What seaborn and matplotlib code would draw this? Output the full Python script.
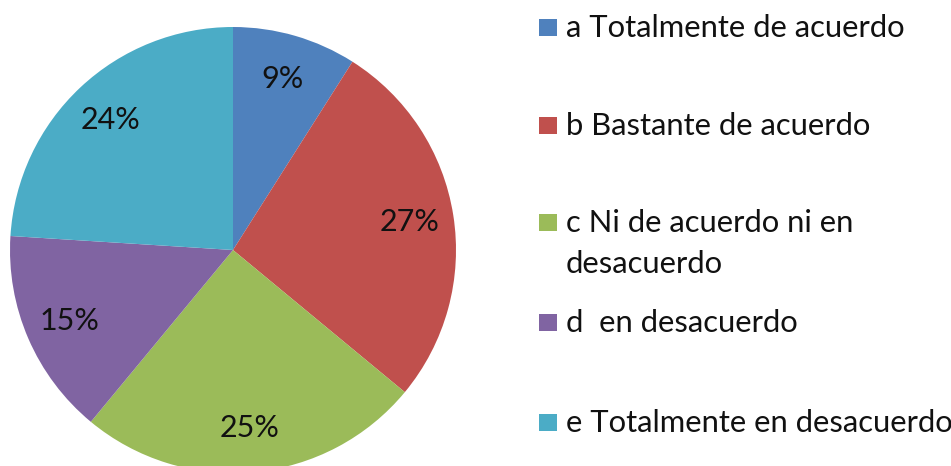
import matplotlib
matplotlib.use("Agg")
import matplotlib.pyplot as plt
from matplotlib.patches import Rectangle
import seaborn as sns

# datos
etiquetas = ["a Totalmente de acuerdo", "b Bastante de acuerdo",
             "c Ni de acuerdo ni en\ndesacuerdo", "d  en desacuerdo",
             "e Totalmente en desacuerdo"]
valores = [9, 27, 25, 15, 24]
colores = ["#4F81BD", "#C0504D", "#9BBB59", "#8064A2", "#4BACC6"]

sns.set_theme(style="white")
plt.rcParams["font.family"] = ["Lato", "DejaVu Sans"]

W, H = 951, 466
fig = plt.figure(figsize=(W / 100, H / 100), dpi=100)

# pie: centro (233, 250) px, radio 223 px
cx, cy, r = 233, 250, 223
ax = fig.add_axes([(cx - r) / W, (H - cy - r) / H, 2 * r / W, 2 * r / H])
ax.pie(valores, colors=colores, startangle=90, counterclock=False,
       autopct="%1.0f%%", pctdistance=0.8,
       wedgeprops=dict(linewidth=0),
       textprops=dict(fontsize=22, color="#111111"))
ax.set_xlim(-1, 1)
ax.set_ylim(-1, 1)
ax.axis("off")

# leyenda manual
base_y = [37, 135, 232, 332, 432]
paso = 41
for lab, col, y in zip(etiquetas, colores, base_y):
    fig.add_artist(Rectangle((539 / W, (H - y + 1) / H), 18 / W, 17 / H,
                             transform=fig.transFigure, color=col, lw=0))
    for i, linea in enumerate(lab.split("\n")):
        fig.text(566 / W, (H - y - i * paso) / H, linea, fontsize=22.3,
                 va="baseline", ha="left", color="#111111")

fig.savefig("out.png", dpi=100)
